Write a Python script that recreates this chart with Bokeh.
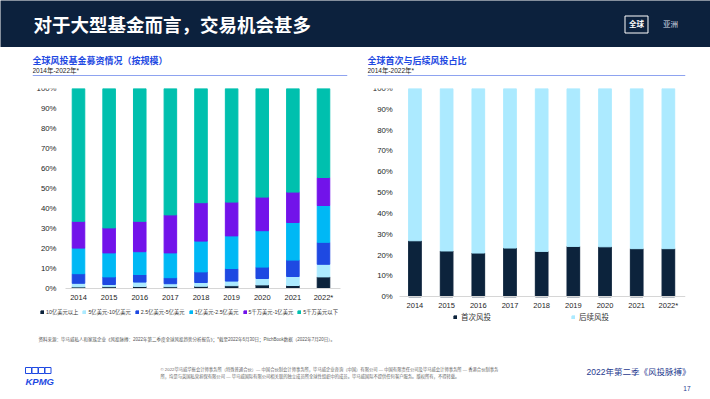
from bokeh.plotting import figure
from bokeh.layouts import column, row
from bokeh.models import (Range1d, FixedTicker, PrintfTickFormatter,
                          Label, Legend, LegendItem, Span, ColumnDataSource)
from bokeh.embed import file_html
from bokeh.resources import INLINE

# ---------------- data ----------------
years = ["2014", "2015", "2016", "2017", "2018", "2019", "2020", "2021", "2022*"]

size_labels = ["10亿美元以上", "5亿美元-10亿美元", "2.5亿美元-5亿美元",
               "1亿美元-2.5亿美元", "5千万美元-1亿美元", "5千万美元以下"]
over_1b = [0.8, 0.9, 1.0, 0.9, 1.1, 1.4, 1.8, 1.5, 5.8]
b500m_1b = [1.8, 1.1, 2.2, 1.5, 1.9, 2.3, 3.2, 4.5, 6.3]
b250m_500m = [4.8, 3.8, 3.8, 3.0, 5.3, 6.3, 5.7, 8.2, 11.0]
b100m_250m = [12.8, 12.0, 11.4, 12.4, 15.4, 16.3, 18.2, 18.8, 18.4]
m50_100m = [13.4, 12.5, 15.2, 19.0, 19.2, 16.9, 16.8, 15.2, 14.0]
under_50m = [66.4, 69.7, 66.4, 63.2, 57.1, 56.8, 54.3, 51.8, 44.5]

round_labels = ["首次风投", "后续风投"]
first_round = [26.9, 22.0, 21.0, 23.4, 21.8, 24.2, 24.0, 23.1, 23.1]
follow_on = [73.1, 78.0, 79.0, 76.6, 78.2, 75.8, 76.0, 76.9, 76.9]

pct_ticks = [0, 10, 20, 30, 40, 50, 60, 70, 80, 90, 100]

# ---------------- style ----------------
NAVY = "#0c213d"
DARK = "#0c233c"
LIGHT = "#acEAFF"
BLUE = "#1e49e2"
CYAN = "#00b8f5"
PURPLE = "#7213ea"
TEAL = "#00c0ae"
CJK = "Liberation Sans, Noto Sans CJK SC"
TXT = "#333333"
idx = list(range(len(years)))


def blank(width, height, bg="white", **borders):
    p = figure(width=width, height=height, x_range=Range1d(0, 1), y_range=Range1d(0, 1),
               output_backend="svg", toolbar_location=None,
               x_axis_location=None, y_axis_location=None,
               background_fill_color=bg, border_fill_color=bg, **borders)
    p.outline_line_color = None
    p.xgrid.grid_line_color = None
    p.ygrid.grid_line_color = None
    return p


def lab(p, x, y, text, size, color=TXT, style="normal", align="left", font=CJK, **kw):
    p.add_layout(Label(x=x, y=y, x_units="screen", y_units="screen", text=text,
                       text_font=font, text_font_size=size, text_color=color,
                       text_font_style=style, text_align=align,
                       text_baseline="middle", **kw))


def chart(width, ml, mr, x0_px, step_px, yaxis_px, xline_end_px, px_per_pct, standoff):
    """Frame spans ml..width-mr horizontally and page-y 88..352 vertically.
    Axes are pinned inside the frame at fixed data locations."""
    fw = width - ml - mr
    fh = 264
    xs = -(x0_px - ml) / step_px
    xe = xs + fw / step_px
    ys = 100 - fh / px_per_pct
    p = figure(width=width, height=273, x_range=Range1d(xs, xe), y_range=Range1d(ys, 100),
               output_backend="svg", toolbar_location=None,
               min_border_left=ml, min_border_right=mr, min_border_top=9,
               min_border_bottom=0)
    p.outline_line_color = None
    p.xgrid.grid_line_color = None
    p.ygrid.grid_line_color = None
    yaxis_x = (yaxis_px - x0_px) / step_px
    p.yaxis.fixed_location = yaxis_x
    p.yaxis.ticker = FixedTicker(ticks=pct_ticks)
    p.yaxis.formatter = PrintfTickFormatter(format="%d%%")
    p.yaxis.axis_line_color = None
    p.yaxis.major_label_standoff = standoff
    p.xaxis.fixed_location = 0
    p.xaxis.bounds = (yaxis_x, (xline_end_px - x0_px) / step_px)
    p.xaxis.ticker = FixedTicker(ticks=idx)
    p.xaxis.major_label_overrides = {i: y for i, y in zip(idx, years)}
    p.xaxis.axis_line_color = "#d6d6d6"
    p.xaxis.major_label_standoff = 4
    for ax in (p.xaxis, p.yaxis):
        ax.major_tick_line_color = None
        ax.minor_tick_line_color = None
        ax.major_tick_out = 0
        ax.major_tick_in = 0
        ax.minor_tick_out = 0
        ax.minor_tick_in = 0
        ax.major_label_text_font = "Liberation Sans"
        ax.major_label_text_color = "#262626"
    p.xaxis.major_label_text_font_size = "7.5px"
    p.yaxis.major_label_text_font_size = "7.8px"
    return p


def title_block(width, ml, mr, title, sub):
    t = blank(width, 32, min_border_left=ml, min_border_right=mr,
              min_border_top=0, min_border_bottom=4)
    t.add_layout(Span(location=0, dimension="width", line_color=BLUE, line_width=1))
    lab(t, 0, 15, title, "9px", color=BLUE, style="bold")
    lab(t, 0, 5.5, sub, "6.5px", color="#222222")
    return t


# ---------------- header ----------------
hdr = blank(710, 47, bg=NAVY, min_border=0)
lab(hdr, 33, 22, "对于大型基金而言，交易机会甚多", "18.5px", color="white", style="bold")
lab(hdr, 636, 23, "全球", "7.5px", color="white", style="bold", align="center",
    border_line_color="white", border_line_width=1, padding=4)
lab(hdr, 670, 23, "亚洲", "7.5px", color="#d8dde6", align="center")

# ---------------- left chart ----------------
lt = title_block(360, 32, 13, "全球风投基金募资情况（按规模）", "2014年-2022年*")
lc = chart(360, 32, 13, x0_px=78, step_px=30.625, yaxis_px=65, xline_end_px=340,
           px_per_pct=2.0, standoff=9)
src_l = ColumnDataSource(dict(x=idx, s0=over_1b, s1=b500m_1b, s2=b250m_500m,
                              s3=b100m_250m, s4=m50_100m, s5=under_50m))
rs = lc.vbar_stack(["s0", "s1", "s2", "s3", "s4", "s5"], x="x", width=0.41,
                   color=[DARK, LIGHT, BLUE, CYAN, PURPLE, TEAL], source=src_l)
leg_l = Legend(items=[LegendItem(label=n, renderers=[r]) for n, r in zip(size_labels, rs)],
               orientation="horizontal", location=(8, 36),
               label_text_font=CJK, label_text_font_size="5.3px", label_text_color=TXT,
               label_height=8, glyph_height=4, glyph_width=4, label_standoff=2,
               spacing=4, padding=0, margin=0, border_line_color=None,
               background_fill_alpha=0)
lc.add_layout(leg_l, "center")
lab(lc, 6, 13,
    "资料来源：毕马威私人和家族企业《风投脉搏：2022年第二季度全球风投趋势分析报告》；"
    "*截至2022年6月30日；PitchBook数据（2022年7月20日）。", "4.5px", color="#555555")

# ---------------- right chart ----------------
rt = title_block(350, 7, 25, "全球首次与后续风投占比", "2014年-2022年*")
rc = chart(350, 0, 25, x0_px=408.5 - 360, step_px=32.375, yaxis_px=393 - 360,
           xline_end_px=685 - 360, px_per_pct=2.083, standoff=7)
src_r = ColumnDataSource(dict(x=idx, first=first_round, follow=follow_on))
rr = rc.vbar_stack(["first", "follow"], x="x", width=0.40, color=[DARK, LIGHT],
                   source=src_r)
leg_r = Legend(items=[LegendItem(label=n, renderers=[r]) for n, r in zip(round_labels, rr)],
               orientation="horizontal", location=(86, 30),
               label_text_font=CJK, label_text_font_size="7.5px", label_text_color=TXT,
               label_height=8, glyph_height=4, glyph_width=4, label_standoff=4,
               spacing=80, padding=0, margin=0, border_line_color=None,
               background_fill_alpha=0)
rc.add_layout(leg_r, "center")

# ---------------- footer ----------------
ftr = blank(710, 47, min_border=0)
for bx in (28, 34.5, 41, 47.5):
    lab(ftr, bx, 29, "\u3000", "6px", color=BLUE, align="center",
        border_line_color=BLUE, border_line_width=1, padding=0)
lab(ftr, 25, 18, "KPMG", "9.5px", color=BLUE, style="bold italic", font="Liberation Sans")
lab(ftr, 160, 30.5,
    "© 2022毕马威华振会计师事务所（特殊普通合伙）— 中国合伙制会计师事务所，毕马威企业咨询（中国）有限公司 — "
    "中国有限责任公司及毕马威会计师事务所 — 香港合伙制事务", "4.3px", color="#666666")
lab(ftr, 160, 23,
    "所，均是与英国私营担保有限公司 — 毕马威国际有限公司相关联的独立成员所全球性组织中的成员。"
    "毕马威国际不提供任何客户服务。版权所有，不得转载。", "4.3px", color="#666666")
lab(ftr, 690, 28, "2022年第二季《风投脉搏》", "8.5px", color="#1f3a8f", align="right")
lab(ftr, 690, 11, "17", "6.5px", color="#1f3a8f", align="right")

layout = column(hdr, row(column(lt, lc), column(rt, rc)), ftr)

with open("out.html", "w") as f:
    f.write(file_html(layout, INLINE))
